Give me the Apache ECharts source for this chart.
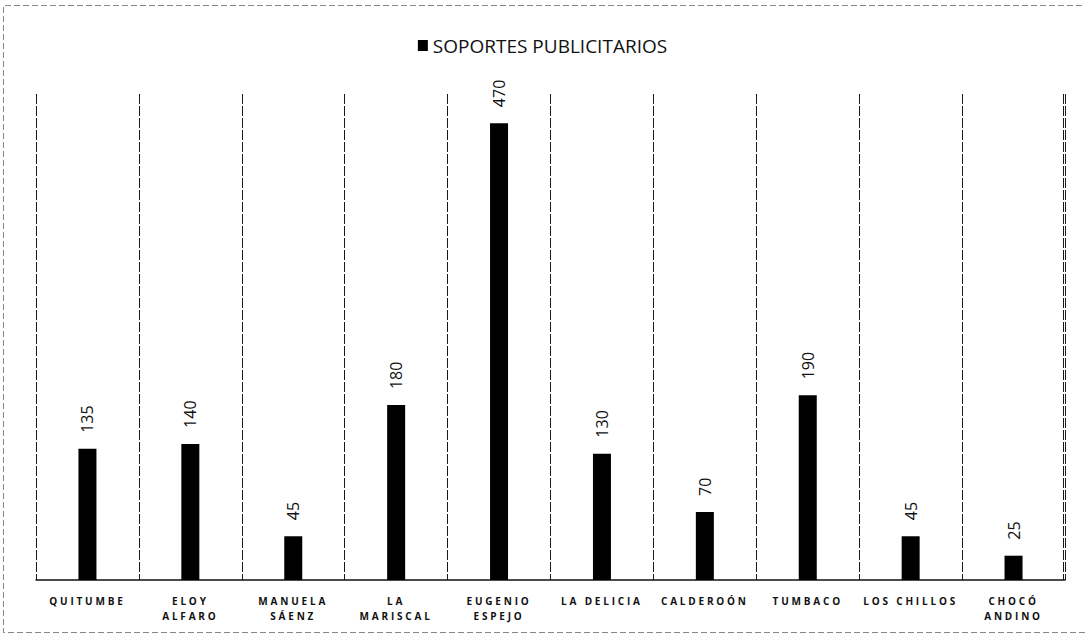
<!DOCTYPE html>
<html>
<head>
<meta charset="utf-8">
<script src="https://cdn.jsdelivr.net/npm/echarts@6/dist/echarts.min.js"></script>
<style>
  html, body { margin: 0; padding: 0; background: #fff; overflow: hidden; }
  #main { width: 1085px; height: 637px; }
</style>
</head>
<body>
<div id="main"></div>
<script>
// datos del gráfico
var categorias = ['QUITUMBE', 'ELOY\nALFARO', 'MANUELA\nSÁENZ', 'LA\nMARISCAL', 'EUGENIO\nESPEJO',
    'LA DELICIA', 'CALDEROÓN', 'TUMBACO', 'LOS CHILLOS', 'CHOCÓ\nANDINO'];
var soportes = [135, 140, 45, 180, 470, 130, 70, 190, 45, 25];
var serieNombre = 'SOPORTES PUBLICITARIOS';
var ejeMax = 500;

var myChart = echarts.init(document.getElementById('main'), null, { renderer: 'svg' });

var option = {
    animation: false,
    backgroundColor: '#fff',
    legend: {
        data: [serieNombre],
        top: 31,
        left: 'center',
        icon: 'rect',
        itemWidth: 10,
        itemHeight: 11,
        itemGap: 7,
        textStyle: {
            fontFamily: 'Open Sans',
            fontSize: 19,
            color: '#111'
        }
    },
    grid: {
        left: 36,
        right: 20,
        top: 94,
        bottom: 57
    },
    xAxis: {
        type: 'category',
        data: categorias,
        axisLine: { lineStyle: { color: '#111', width: 1.5 } },
        axisTick: { show: false },
        splitLine: { show: true, lineStyle: { color: '#1a1a1a', width: 1, type: [10, 2] } },
        axisLabel: {
            interval: 0,
            margin: 13,
            color: '#111',
            fontFamily: 'Open Sans',
            fontWeight: 'bold',
            fontSize: 10,
            lineHeight: 15
        }
    },
    yAxis: {
        type: 'value',
        min: 0,
        max: ejeMax,
        show: false
    },
    series: [{
        name: serieNombre,
        type: 'bar',
        data: soportes,
        barWidth: 18,
        itemStyle: { color: '#000' },
        label: {
            show: true,
            position: 'top',
            rotate: 90,
            align: 'left',
            verticalAlign: 'middle',
            distance: 16,
            color: '#111',
            fontFamily: 'Open Sans',
            fontSize: 16
        }
    }]
};

myChart.setOption(option);

// última línea divisoria (borde derecho) y marco punteado
var n = categorias.length;
var cUlt = myChart.convertToPixel({ xAxisIndex: 0 }, n - 1);
var cPen = myChart.convertToPixel({ xAxisIndex: 0 }, n - 2);
var xBorde = Math.round(cUlt + (cUlt - cPen) / 2) - 1.5;
var yTop = myChart.convertToPixel({ yAxisIndex: 0 }, ejeMax);
var yBase = myChart.convertToPixel({ yAxisIndex: 0 }, 0);
myChart.setOption({
    graphic: [{
        type: 'line',
        shape: { x1: xBorde, y1: yTop, x2: xBorde, y2: yBase },
        style: { stroke: '#1a1a1a', lineWidth: 1, lineDash: [10, 2] },
        silent: true
    }, {
        type: 'polyline',
        shape: { points: [[1085, 632.5], [3.5, 632.5], [3.5, 5.5], [1085, 5.5]] },
        style: { fill: null, stroke: '#888', lineWidth: 1, lineDash: [6, 3] },
        silent: true
    }]
});

// espaciado de letras en las etiquetas del eje x
var textos = document.querySelectorAll('#main svg text');
textos.forEach(function (t) {
    var s = t.textContent;
    if (/^[A-ZÁÉÍÓÚÑ ]+$/.test(s) && s !== serieNombre) {
        t.style.letterSpacing = '2.8px';
    }
});
</script>
</body>
</html>
